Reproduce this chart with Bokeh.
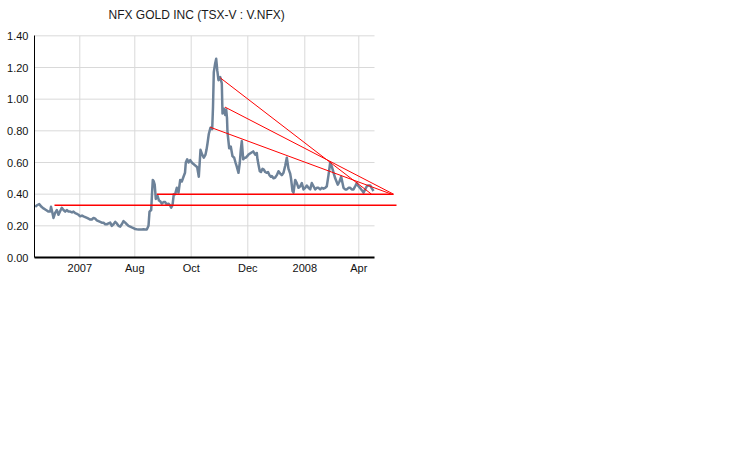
from bokeh.plotting import figure
from bokeh.models import Range1d, FixedTicker, Label
from bokeh.embed import file_html
from bokeh.resources import INLINE

# time index (arbitrary trading-day scale) and closing price
t = [36.7, 38.5, 40.7, 43, 45, 47.5, 50, 51.7, 52.5, 54, 55, 56.5, 58.3, 60, 61.5, 63.3, 65, 66.7, 68.5, 70,
     71.7, 73.5, 75, 76.7, 78.5, 80, 81.7, 83.5, 85, 86.7, 88.5, 90, 91.7, 93.3, 95, 96.7, 98.3, 100, 101.7, 103.3,
     105, 106.7, 108.3, 110, 111.7, 113.3, 115, 116.7, 118.3, 120, 121.7, 123.3, 125, 126.7, 128.3, 130, 131.7, 133.3, 135, 136.7,
     138.3, 140, 141.7, 143.3, 145, 146.7, 148.3, 150, 151, 152.7, 153.5, 154.3, 155.3, 156.2, 157.3, 159, 160.5, 161.7, 163.3, 165,
     166.7, 168.3, 170, 171.5, 172.7, 174, 175.3, 176.7, 178.3, 180, 181.7, 183.3, 185, 186.5, 187.3, 188.7, 190, 191.7, 193.3, 195,
     197, 198.7, 200.3, 202, 203.7, 205.3, 207, 208, 209, 210.3, 212, 213.7, 214.5, 215.3, 216.5, 217.7, 218.8, 220, 221.7, 223.3,
     224, 225.5, 226.7, 227.7, 228.5, 229, 230.7, 232.3, 234, 235.7, 237, 238, 240, 241.3, 242.3, 243.3, 244.7, 246, 247.3, 248.7,
     250, 252.3, 254.7, 256.7, 258.3, 259, 260.2, 261.3, 262.5, 264, 265.3, 266.7, 268.3, 269.5, 271, 272.3, 273.3, 275, 276.7, 278.3,
     280, 281.7, 283.3, 285, 286.7, 288.3, 290, 291.7, 292.5, 294, 295, 296.7, 298.3, 300, 301.7, 303.3, 305, 306.7, 308.3, 310,
     311.7, 313.3, 315, 316.7, 318.3, 320, 321.7, 323.3, 325, 326.7, 328.3, 330, 331.7, 333, 334, 335.3, 336.7, 338, 339.3, 341,
     342.7, 344, 345, 346.7, 348.3, 350, 351.7, 353.3, 355, 356.7, 358.3, 360, 361.5, 362.7, 364, 365, 366.7, 368.3, 370, 371.7,
     373, 374, 375]
price = [0.32, 0.33, 0.337, 0.32, 0.31, 0.30, 0.29, 0.29, 0.32, 0.28, 0.25, 0.28, 0.30, 0.27, 0.29, 0.314, 0.30, 0.29, 0.30, 0.29,
         0.29, 0.285, 0.29, 0.28, 0.275, 0.27, 0.26, 0.265, 0.26, 0.255, 0.25, 0.245, 0.24, 0.24, 0.25, 0.245, 0.235, 0.23, 0.225, 0.22,
         0.22, 0.21, 0.21, 0.215, 0.22, 0.20, 0.21, 0.225, 0.215, 0.20, 0.195, 0.21, 0.23, 0.22, 0.21, 0.20, 0.195, 0.19, 0.185, 0.18,
         0.178, 0.177, 0.177, 0.177, 0.178, 0.177, 0.177, 0.20, 0.29, 0.30, 0.40, 0.49, 0.48, 0.46, 0.37, 0.39, 0.36, 0.355, 0.34, 0.35,
         0.35, 0.335, 0.34, 0.33, 0.315, 0.33, 0.40, 0.40, 0.44, 0.41, 0.49, 0.48, 0.51, 0.535, 0.60, 0.62, 0.60, 0.615, 0.60, 0.59,
         0.58, 0.57, 0.51, 0.68, 0.65, 0.63, 0.65, 0.68, 0.72, 0.78, 0.82, 0.81, 0.95, 1.17, 1.22, 1.255, 1.18, 1.12, 1.14, 1.10,
         0.91, 0.94, 0.90, 0.935, 0.88, 0.79, 0.69, 0.70, 0.64, 0.63, 0.60, 0.58, 0.535, 0.60, 0.68, 0.735, 0.62, 0.63, 0.63, 0.64,
         0.65, 0.66, 0.67, 0.65, 0.66, 0.62, 0.58, 0.545, 0.54, 0.56, 0.555, 0.54, 0.535, 0.54, 0.52, 0.51, 0.515, 0.50, 0.505, 0.52,
         0.545, 0.53, 0.52, 0.535, 0.58, 0.63, 0.56, 0.53, 0.50, 0.42, 0.41, 0.49, 0.47, 0.44, 0.45, 0.47, 0.43, 0.44, 0.455, 0.44,
         0.43, 0.47, 0.45, 0.43, 0.44, 0.44, 0.43, 0.44, 0.435, 0.44, 0.45, 0.52, 0.60, 0.58, 0.56, 0.53, 0.50, 0.48, 0.46, 0.48,
         0.51, 0.47, 0.44, 0.43, 0.43, 0.44, 0.44, 0.43, 0.43, 0.45, 0.47, 0.45, 0.44, 0.43, 0.42, 0.41, 0.43, 0.45, 0.455, 0.455,
         0.44, 0.43, 0.42]

# trend lines (start t, start price, end t, end price)
h_x0 = [56.0, 158.3]
h_y0 = [0.33, 0.40]
h_x1 = [398.0, 395.0]
h_y1 = [0.33, 0.40]
d_x0 = [211.7, 226.5, 221.7]
d_y0 = [0.823, 0.95, 1.135]
d_x1 = [393.0, 395.0, 373.0]
d_y1 = [0.40, 0.40, 0.40]

x_ticks = [81.3, 136.3, 192.7, 249.3, 306.3, 360.3]
x_labels = ["2007", "Aug", "Oct", "Dec", "2008", "Apr"]
y_ticks = [0.0, 0.2, 0.4, 0.6, 0.8, 1.0, 1.2, 1.4]
title_text = "NFX GOLD INC (TSX-V : V.NFX)"

FONT = "Liberation Sans"
Y_TOP = 1.4          # top of the value axis
X_END = 376          # right end of the grid / axis

# frame extends above the value axis so the title can sit inside it
p = figure(output_backend="svg", toolbar_location=None,
           frame_width=364, frame_height=257,
           x_range=Range1d(36, 400), y_range=Range1d(0, 1.6232),
           min_border_left=34, min_border_right=8, min_border_top=0, min_border_bottom=20)
p.outline_line_color = None
p.background_fill_color = "white"
p.border_fill_color = "white"

p.add_layout(Label(x=110, y=1.530, text=title_text, text_font=FONT, text_font_size="12px",
                   text_color="#1a1a1a", text_baseline="middle", text_align="left"))

# grids (drawn only over the value area)
p.xgrid.grid_line_color = None
p.ygrid.grid_line_color = None
p.segment(x0=36, x1=X_END, y0=y_ticks, y1=y_ticks, line_color="#d9d9d9", line_width=1)
p.segment(x0=x_ticks, x1=x_ticks, y0=0, y1=Y_TOP, line_color="#d9d9d9", line_width=1)

# axes
p.xaxis.ticker = FixedTicker(ticks=x_ticks)
p.xaxis.major_label_overrides = {xt: lab for xt, lab in zip(x_ticks, x_labels)}
p.xaxis.bounds = (36, X_END)
p.yaxis.ticker = FixedTicker(ticks=y_ticks)
p.yaxis.major_label_overrides = {yt: f"{yt:.2f}" for yt in y_ticks}
p.yaxis.bounds = (0, Y_TOP)
for ax in (p.xaxis, p.yaxis):
    ax.major_tick_out = 0
    ax.major_tick_in = 0
    ax.minor_tick_out = 0
    ax.minor_tick_in = 0
    ax.axis_line_color = "black"
    ax.major_label_text_font = FONT
    ax.major_label_text_font_size = "11px"
    ax.major_label_text_color = "#111111"
p.xaxis.axis_line_width = 2
p.yaxis.axis_line_width = 1
p.xaxis.major_label_standoff = 4
p.yaxis.major_label_standoff = 6

# price line
p.line(t, price, line_color="#6d8299", line_width=2.5, line_join="round")

# trend lines
p.segment(x0=h_x0, y0=h_y0, x1=h_x1, y1=h_y1, line_color="#ff0000", line_width=1.5)
p.segment(x0=d_x0, y0=d_y0, x1=d_x1, y1=d_y1, line_color="#ff0000", line_width=1)

open("out.html", "w").write(file_html(p, INLINE))
